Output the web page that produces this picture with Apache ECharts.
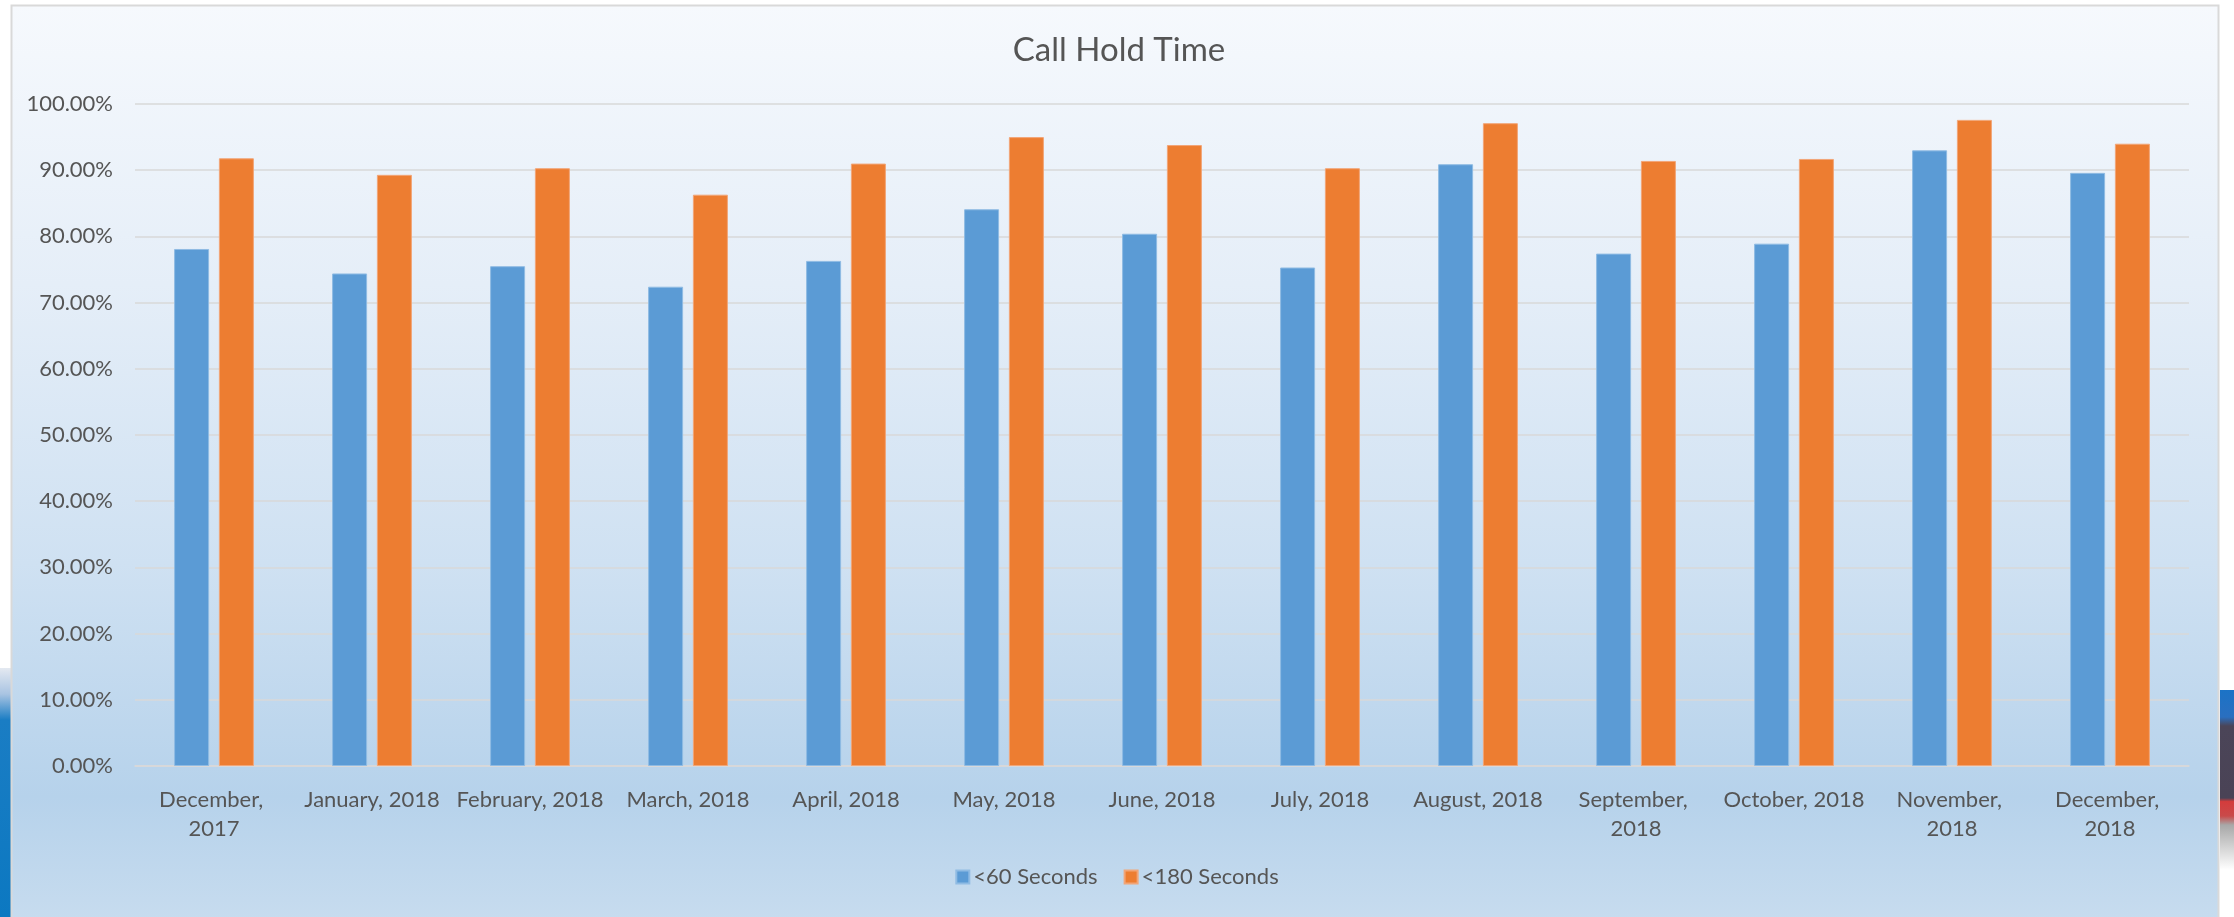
<!DOCTYPE html>
<html>
<head>
<meta charset="utf-8">
<script src="https://cdn.jsdelivr.net/npm/echarts@6/dist/echarts.min.js"></script>
<style>
html,body{margin:0;padding:0;background:#ffffff;}
#chart{width:2234px;height:917px;}
</style>
</head>
<body>
<div id="chart"></div>
<script>
const categories = ["December, 2017","January, 2018","February, 2018","March, 2018","April, 2018","May, 2018","June, 2018","July, 2018","August, 2018","September, 2018","October, 2018","November, 2018","December, 2018"];
const under60 = [78.1, 74.4, 75.5, 72.4, 76.3, 84.1, 80.4, 75.3, 90.9, 77.4, 78.9, 93.0, 89.6];
const under180 = [91.8, 89.3, 90.3, 86.3, 91.0, 95.0, 93.8, 90.3, 97.1, 91.4, 91.7, 97.6, 94.0];
const seriesNames = ["<60 Seconds", "<180 Seconds"];

const FONT = 'Lato, "Noto Sans", sans-serif';
const TXT = '#555555';
const chart = echarts.init(document.getElementById('chart'), null, {renderer:'canvas'});
chart.setOption({
  animation:false,
  textStyle:{fontFamily:FONT},
  graphic:[
    {type:'rect', z:-10, silent:true, shape:{x:0,y:668,width:11,height:260},
      style:{fill:new echarts.graphic.LinearGradient(0,0,0,1,[
        {offset:0,color:'#e4e9f1'},{offset:0.1,color:'#a9c4e2'},{offset:0.2,color:'#1a7dc4'},{offset:1,color:'#0b78c1'}])}},
    {type:'rect', z:-10, silent:true, shape:{x:2220,y:690,width:14,height:180},
      style:{fill:new echarts.graphic.LinearGradient(0,0,0,1,[
        {offset:0,color:'#1b73c6'},{offset:0.15,color:'#2a6fc0'},{offset:0.2,color:'#4b4558'},{offset:0.6,color:'#4a4356'},
        {offset:0.62,color:'#d43c3c'},{offset:0.7,color:'#c94a4a'},{offset:0.75,color:'#a8a8a8'},{offset:1,color:'#ffffff'}])}},
    {type:'rect', z:-5, silent:true, shape:{x:11.5,y:5.5,width:2207,height:930},
      style:{stroke:'#d9d9d9', lineWidth:2,
        fill:new echarts.graphic.LinearGradient(0,0,0,1,[
          {offset:0,color:'#f6f9fd'},{offset:0.3,color:'#e5eef8'},{offset:0.6,color:'#cfe1f2'},
          {offset:0.85,color:'#b6d2eb'},{offset:1,color:'#c9ddef'}])}}
  ],
  title:{
    text:'Call Hold Time', left:1114, top:29, textAlign:'center',
    textStyle:{fontFamily:FONT, fontSize:33, fontWeight:'normal', color:TXT}
  },
  legend:{
    data:seriesNames, bottom:24, left:'center', itemWidth:13, itemHeight:13, itemGap:26,
    icon:'rect',
    textStyle:{fontFamily:FONT, fontSize:22, color:TXT, padding:[0,0,0,-1]}
  },
  grid:{left:135, right:45, top:104, bottom:151, containLabel:false},
  xAxis:{
    type:'category', data:categories,
    axisTick:{show:false},
    axisLine:{show:true, lineStyle:{color:'#d9d9d9', width:1.5}},
    axisLabel:{fontFamily:FONT, fontSize:22, color:TXT, margin:19, interval:0,
      width:152, overflow:'break', lineHeight:29}
  },
  yAxis:{
    type:'value', min:0, max:100, interval:10,
    axisLine:{show:false}, axisTick:{show:false},
    splitLine:{lineStyle:{color:'#d9d9d9', width:1.5}},
    axisLabel:{fontFamily:FONT, fontSize:22, color:TXT, margin:22,
      formatter:v=>v.toFixed(2)+'%'}
  },
  series:[
    {name:seriesNames[0], type:'bar', data:under60, barWidth:35, barGap:'28%',
      itemStyle:{color:'#5b9bd5', borderColor:'#8fbbe3', borderWidth:1}},
    {name:seriesNames[1], type:'bar', data:under180, barWidth:35, barGap:'28%',
      itemStyle:{color:'#ed7d31', borderColor:'#f2a577', borderWidth:1}}
  ]
});
</script>
</body>
</html>
